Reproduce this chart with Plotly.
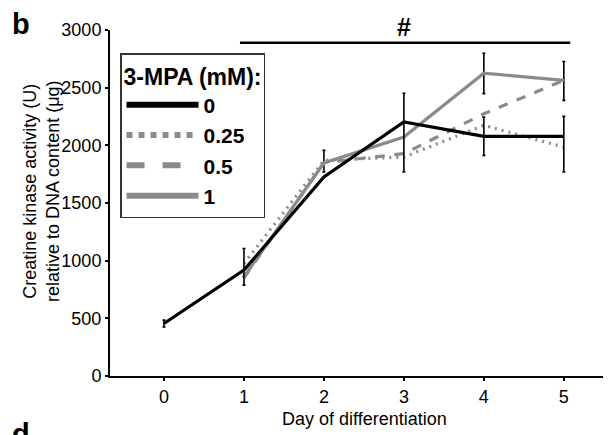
import plotly.graph_objects as go

# ---- data ----
days = [0, 1, 2, 3, 4, 5]
series_names = ["0", "0.25", "0.5", "1"]
mpa_0 = [455, 918, 1726, 2202, 2078, 2078]
mpa_025 = [None, 975, 1870, 1899, 2173, 1985]
mpa_05 = [None, 850, 1850, 1928, 2274, 2563]
mpa_1 = [None, 860, 1847, 2072, 2626, 2563]

err_0_plus = [30, 188, 0, 250, 167, 173]
err_0_minus = [30, 130, 0, 433, 165, 309]
err_1_plus = [0, 0, 110, 0, 173, 164]
err_1_minus = [0, 0, 78, 0, 178, 173]

x_ticks = [0, 1, 2, 3, 4, 5]
y_ticks = [0, 500, 1000, 1500, 2000, 2500, 3000]

sig_bar_x = [0.95, 5.08]
sig_bar_y = 2889
sig_label = "#"
sig_label_x = 3

GRAY = "#8a8a8a"
FONT = "Liberation Sans, Arial, sans-serif"

fig = go.Figure()

def eb(plus, minus):
    return dict(type="data", array=plus, arrayminus=minus, symmetric=False,
                color="black", thickness=1.6, width=1.5)

# data traces (black drawn last, on top)
fig.add_trace(go.Scatter(x=days, y=mpa_1, mode="lines", showlegend=False,
                         line=dict(color=GRAY, width=3.2),
                         error_y=eb(err_1_plus, err_1_minus)))
fig.add_trace(go.Scatter(x=days, y=mpa_05, mode="lines", showlegend=False,
                         line=dict(color=GRAY, width=3.2, dash="dash")))
fig.add_trace(go.Scatter(x=days, y=mpa_025, mode="lines", showlegend=False,
                         line=dict(color=GRAY, width=3.2, dash="2px,5px")))
fig.add_trace(go.Scatter(x=days, y=mpa_0, mode="lines", showlegend=False,
                         line=dict(color="black", width=3.2),
                         error_y=eb(err_0_plus, err_0_minus)))

# legend entries
legend_styles = [
    dict(color="black", width=6),
    dict(color=GRAY, width=6, dash="dot"),
    dict(color=GRAY, width=6, dash="dash"),
    dict(color=GRAY, width=6),
]
for name, st in zip(series_names, legend_styles):
    fig.add_trace(go.Scatter(x=[None], y=[None], mode="lines", name=f"<b>{name}</b>",
                             line=st, showlegend=True))

# significance bar
fig.add_shape(type="line", xref="x", yref="y",
              x0=sig_bar_x[0], x1=sig_bar_x[1], y0=sig_bar_y, y1=sig_bar_y,
              line=dict(color="black", width=2.5))
fig.add_annotation(x=sig_label_x, y=sig_bar_y, xref="x", yref="y",
                   text=f"<b>{sig_label}</b>", showarrow=False, yanchor="bottom",
                   font=dict(size=25, color="black", family=FONT))

# panel letters
fig.add_annotation(x=-0.2, y=1.07, xref="paper", yref="paper", text="<b>b</b>",
                   showarrow=False, xanchor="left", yanchor="top",
                   font=dict(size=29, color="black", family=FONT))
fig.add_annotation(x=-0.2, y=-0.116, xref="paper", yref="paper", text="<b>d</b>",
                   showarrow=False, xanchor="left", yanchor="top",
                   font=dict(size=29, color="black", family=FONT))

# axis titles
fig.add_annotation(x=-0.137, y=0.533, xref="paper", yref="paper",
                   text="Creatine kinase activity (U)<br>relative to DNA content (μg)",
                   textangle=-90, showarrow=False, xanchor="center", yanchor="middle",
                   font=dict(size=18, color="black", family=FONT))
fig.add_annotation(x=0.507, y=-0.124, xref="paper", yref="paper",
                   text="Day of differentiation", showarrow=False,
                   xanchor="center", yanchor="middle",
                   font=dict(size=18, color="black", family=FONT))

# page body adds an 8px margin; size the figure so the plot lands where the reference has it
fig.update_layout(
    width=603, height=427,
    margin=dict(l=102, r=0, t=22, b=59),
    paper_bgcolor="white", plot_bgcolor="white",
    font=dict(family=FONT, color="black"),
    legend=dict(
        x=0.02, y=0.933, xanchor="left", yanchor="top",
        bordercolor="#333333", borderwidth=1.5, bgcolor="white",
        title=dict(text="<b>3-MPA (mM):</b>", font=dict(size=23, family=FONT)),
        font=dict(size=21, family=FONT, color="black"),
        itemwidth=72, entrywidth=68,
    ),
    xaxis=dict(range=[-0.675, 5.59], tickvals=x_ticks, showgrid=False, zeroline=False,
               showline=True, linecolor="black", linewidth=2,
               ticks="outside", ticklen=3, tickwidth=1.5, tickcolor="black",
               tickfont=dict(size=18, family=FONT)),
    yaxis=dict(range=[0, 3000], tickvals=y_ticks, showgrid=False, zeroline=False,
               showline=True, linecolor="black", linewidth=2,
               ticks="outside", ticklen=3, tickwidth=1.5, tickcolor="black",
               tickfont=dict(size=18, family=FONT)),
)

fig.write_html("out.html")
